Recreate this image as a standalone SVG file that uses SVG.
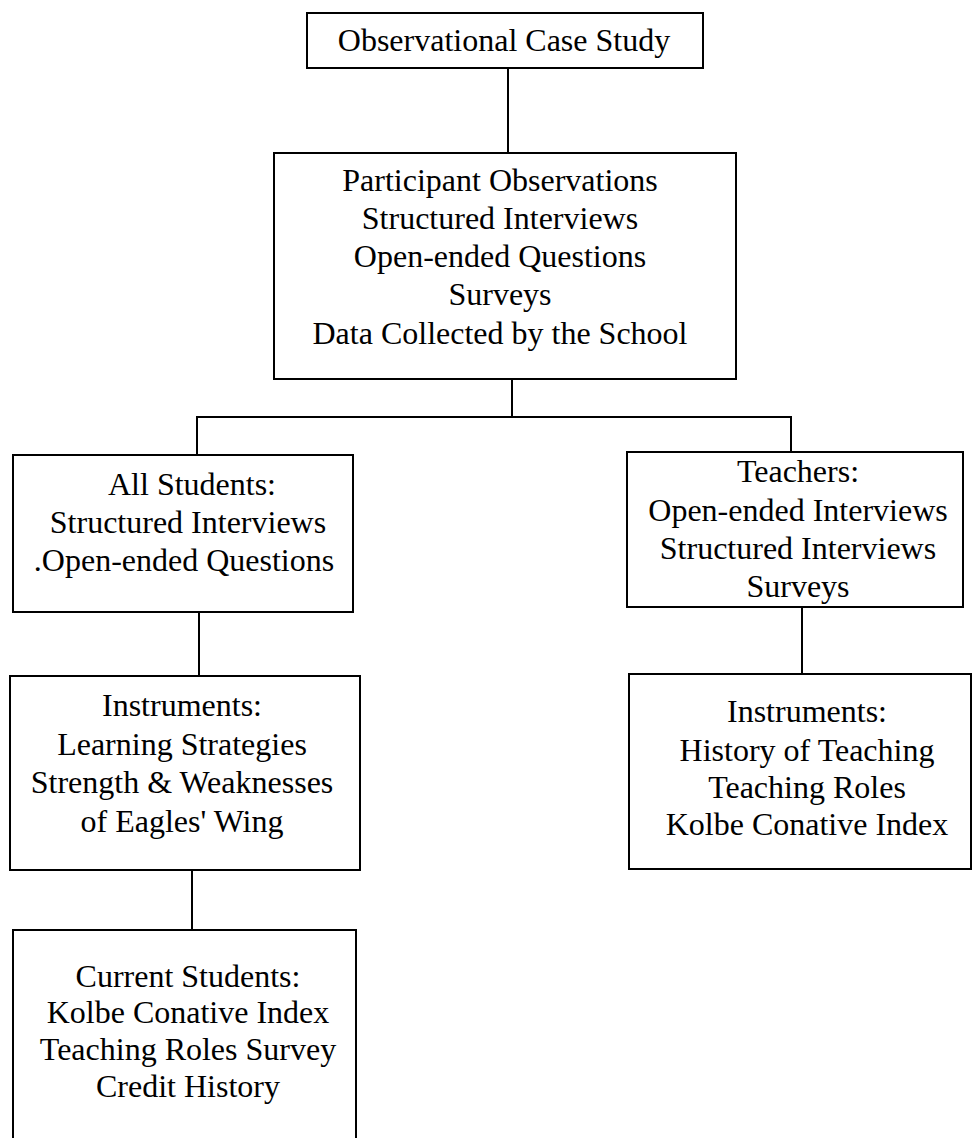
<svg xmlns="http://www.w3.org/2000/svg" width="972" height="1138" viewBox="0 0 972 1138">
<style>
.box{fill:none;stroke:#000;stroke-width:2}
.ln{fill:none;stroke:#000;stroke-width:2}
text{font-family:"Liberation Serif","Times New Roman",serif;font-size:32px;fill:#000;text-anchor:middle}
</style>
<rect width="972" height="1138" fill="#fff"/>
<g id="connectors">
<line class="ln" x1="508" y1="68" x2="508" y2="153"/>
<line class="ln" x1="512" y1="379" x2="512" y2="417"/>
<line class="ln" x1="197" y1="417" x2="791" y2="417"/>
<line class="ln" x1="197" y1="416" x2="197" y2="455"/>
<line class="ln" x1="791" y1="416" x2="791" y2="452"/>
<line class="ln" x1="199" y1="612" x2="199" y2="676"/>
<line class="ln" x1="802" y1="607" x2="802" y2="674"/>
<line class="ln" x1="192" y1="870" x2="192" y2="930"/>
</g>
<g id="n1">
<rect class="box" x="307" y="13" width="396" height="55"/>
<text x="504" y="51">Observational Case Study</text>
</g>
<g id="n2">
<rect class="box" x="274" y="153" width="462" height="226"/>
<text x="500" y="191">Participant Observations</text>
<text x="500" y="229">Structured Interviews</text>
<text x="500" y="267">Open-ended Questions</text>
<text x="500" y="305">Surveys</text>
<text x="500" y="344">Data Collected by the School</text>
</g>
<g id="n3">
<rect class="box" x="13" y="455" width="340" height="157"/>
<text x="192" y="495">All Students:</text>
<text x="188" y="533">Structured Interviews</text>
<text x="184" y="571">.Open-ended Questions</text>
</g>
<g id="n4">
<rect class="box" x="627" y="452" width="336" height="155"/>
<text x="798" y="482">Teachers:</text>
<text x="798" y="521">Open-ended Interviews</text>
<text x="798" y="559">Structured Interviews</text>
<text x="798" y="597">Surveys</text>
</g>
<g id="n5">
<rect class="box" x="10" y="676" width="350" height="194"/>
<text x="182" y="716">Instruments:</text>
<text x="182" y="755">Learning Strategies</text>
<text x="182" y="793">Strength &amp; Weaknesses</text>
<text x="182" y="832">of Eagles' Wing</text>
</g>
<g id="n6">
<rect class="box" x="629" y="674" width="342" height="195"/>
<text x="807" y="722">Instruments:</text>
<text x="807" y="761">History of Teaching</text>
<text x="807" y="798">Teaching Roles</text>
<text x="807" y="835">Kolbe Conative Index</text>
</g>
<g id="n7">
<path class="box" d="M13,1140 V930 H356 V1140"/>
<text x="188" y="987">Current Students:</text>
<text x="188" y="1023">Kolbe Conative Index</text>
<text x="188" y="1060">Teaching Roles Survey</text>
<text x="188" y="1097">Credit History</text>
</g>
</svg>
